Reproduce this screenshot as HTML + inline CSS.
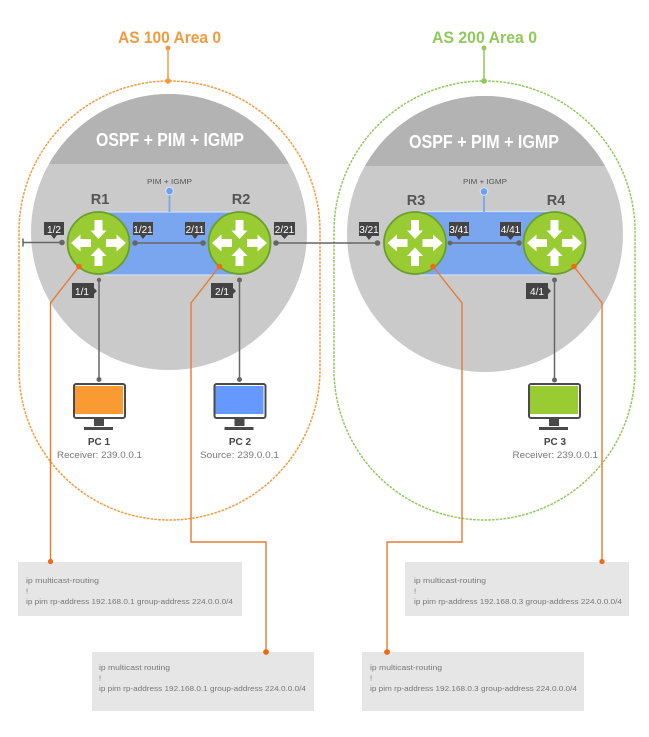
<!DOCTYPE html>
<html>
<head>
<meta charset="utf-8">
<style>
html,body{margin:0;padding:0;background:#fff}
svg{display:block;filter:blur(0.3px)}
text{font-family:"Liberation Sans",sans-serif}
.as{font-size:17px;font-weight:bold}
.ospf{font-size:18px;font-weight:bold;fill:#fff}
.pim{font-size:7.5px;fill:#555}
.r{font-size:14.5px;font-weight:bold;fill:#555;text-anchor:middle}
.pt{font-size:10px;fill:#fff;text-anchor:middle}
.pc{font-size:10px;font-weight:bold;fill:#444;text-anchor:middle}
.sub{font-size:9.5px;fill:#777}
.cfg{font-size:7.5px;fill:#777}
.dash{fill:none;stroke-width:1.5;stroke-dasharray:2.6 1.2}
.g{stroke:#666;stroke-width:1.5;fill:none}
.o{stroke:#e67a35;stroke-width:1.4;fill:none}
</style>
</head>
<body>
<svg width="649" height="737" viewBox="0 0 649 737" xmlns="http://www.w3.org/2000/svg">
<defs>
<clipPath id="capL"><rect x="0" y="0" width="330" height="164"/></clipPath>
<clipPath id="capR"><rect x="330" y="0" width="319" height="166"/></clipPath>
<g id="router">
<circle r="31" fill="#99cc33" stroke="#6a9e2e" stroke-width="1.8"/>
<g fill="#fff">
<path d="M7.500-4H18V-8.500L27.500 0 18 8.500V4H7.500Z"/>
<path d="M-7.500-4H-18V-8.500L-27.500 0-18 8.500V4H-7.500Z"/>
<path d="M-4-23V-12.500H-8L0-4 8-12.500H4V-23Z"/>
<path d="M-4 23V13H-8L0 4.500 8 13H4V23Z"/>
</g>
</g>
<g id="monitor">
<rect x="1" y="1" width="51" height="34" rx="2" fill="#fff" stroke="#4a4a4a" stroke-width="2"/>
<rect x="21" y="36" width="10" height="7" fill="#4a4a4a"/>
<rect x="11" y="44" width="29" height="3" fill="#4a4a4a"/>
</g>
</defs>

<rect width="649" height="737" fill="#fff"/>

<!-- Gray circles -->
<circle cx="169" cy="232" r="138" fill="#cacaca"/>
<circle cx="169" cy="232" r="138" fill="#b3b3b3" clip-path="url(#capL)"/>
<circle cx="485" cy="234" r="138" fill="#cacaca"/>
<circle cx="485" cy="234" r="138" fill="#b3b3b3" clip-path="url(#capR)"/>

<!-- Dashed area outlines -->
<rect class="dash" x="19" y="81" width="301" height="439" rx="150.500" ry="150.500" stroke="#f39a3e"/>
<rect class="dash" x="334" y="81" width="301" height="439" rx="150.500" ry="150.500" stroke="#8fc95a"/>

<!-- Titles -->
<text class="as" x="118" y="43" textLength="103" lengthAdjust="spacingAndGlyphs" fill="#f39a3e">AS 100 Area 0</text>
<line x1="168" y1="48" x2="168" y2="81" stroke="#f39a3e" stroke-width="1.5"/>
<circle cx="168" cy="48" r="2.500" fill="#f39a3e"/>
<circle cx="168" cy="81" r="2.800" fill="#f39a3e"/>
<text class="as" x="432" y="43" textLength="105" lengthAdjust="spacingAndGlyphs" fill="#8fc95a">AS 200 Area 0</text>
<line x1="484" y1="48" x2="484" y2="81" stroke="#8fc95a" stroke-width="1.5"/>
<circle cx="484" cy="48" r="2.500" fill="#8fc95a"/>
<circle cx="484" cy="81" r="2.800" fill="#8fc95a"/>

<text class="ospf" x="96" y="146" textLength="148" lengthAdjust="spacingAndGlyphs">OSPF + PIM + IGMP</text>
<text class="ospf" x="409" y="148" textLength="150" lengthAdjust="spacingAndGlyphs">OSPF + PIM + IGMP</text>

<!-- Blue networks -->
<rect x="105" y="212" width="130" height="63" fill="#7aa5ef" stroke="#d3dff2" stroke-width="1.200"/>
<rect x="420" y="211.500" width="135" height="63.500" fill="#7aa5ef" stroke="#d3dff2" stroke-width="1.200"/>
<line x1="169.500" y1="191" x2="169.500" y2="212" stroke="#7aa5ef" stroke-width="1.800"/>
<line x1="484" y1="191" x2="484" y2="212" stroke="#7aa5ef" stroke-width="1.800"/>
<circle cx="169.500" cy="191" r="3.800" fill="#6f9ff0" stroke="#dbe6f7"/>
<circle cx="484" cy="191.500" r="3.800" fill="#6f9ff0" stroke="#dbe6f7"/>
<text class="pim" x="147" y="184" textLength="45" lengthAdjust="spacingAndGlyphs">PIM + IGMP</text>
<text class="pim" x="463" y="184" textLength="44" lengthAdjust="spacingAndGlyphs">PIM + IGMP</text>

<!-- Gray links -->
<path class="g" d="M23 242.500H62M23 238.500V246.500M135 243H203M276 243H377M450 243H520M99 280V379M239.500 280V379M554.500 280V380"/>
<g fill="#666">
<circle cx="62" cy="242.500" r="2.800"/><circle cx="135" cy="243" r="2.800"/><circle cx="203" cy="243" r="2.800"/>
<circle cx="276" cy="243" r="2.800"/><circle cx="377.500" cy="243" r="2.800"/><circle cx="450" cy="243" r="2.400"/><circle cx="519" cy="243" r="2.800"/>
<circle cx="99" cy="280" r="2.200"/><circle cx="239.500" cy="280" r="2.500"/><circle cx="554.500" cy="280" r="2.500"/>
<circle cx="99" cy="379.500" r="2.500"/><circle cx="239.500" cy="379.500" r="2.500"/><circle cx="554.500" cy="380" r="2.500"/>
</g>

<!-- Routers -->
<use href="#router" x="98.500" y="243"/>
<use href="#router" x="239.500" y="243"/>
<use href="#router" x="415" y="243"/>
<use href="#router" x="554.500" y="243"/>
<text class="r" x="100" y="204">R1</text>
<text class="r" x="241" y="204">R2</text>
<text class="r" x="416" y="205">R3</text>
<text class="r" x="556" y="205">R4</text>

<!-- Port labels -->
<g fill="#444">
<path d="M44 222H64V235H57L54 239 51 235H44Z"/>
<path d="M133 222H153V235H146L143 239 140 235H133Z"/>
<path d="M185 222H205V235H198L195 239 192 235H185Z"/>
<path d="M274 222H295V235H288L284.500 239 281 235H274Z"/>
<path d="M359 222H379V236H372L369 240 366 236H359Z"/>
<path d="M449 222H469V236H462L459 240 456 236H449Z"/>
<path d="M500 222H521V236H514L510.500 240 507 236H500Z"/>
<path d="M72 283H94V288L97 291 94 294V298H72Z"/>
<path d="M211 283H233V288L236 291 233 294V298H211Z"/>
<path d="M526 283H548V288L551 291 548 294V299H526Z"/>
</g>
<text class="pt" x="54" y="233">1/2</text>
<text class="pt" x="143" y="233">1/21</text>
<text class="pt" x="195" y="233">2/11</text>
<text class="pt" x="284.500" y="233">2/21</text>
<text class="pt" x="369" y="233">3/21</text>
<text class="pt" x="459" y="233">3/41</text>
<text class="pt" x="510.500" y="233">4/41</text>
<text class="pt" x="82" y="295">1/1</text>
<text class="pt" x="222" y="295">2/1</text>
<text class="pt" x="537" y="295">4/1</text>

<!-- PCs -->
<use href="#monitor" x="73" y="383"/>
<rect x="75" y="386" width="48" height="28" fill="#f99a33"/>
<use href="#monitor" x="213.500" y="383"/>
<rect x="215.500" y="386" width="48" height="28" fill="#6699ff"/>
<use href="#monitor" x="528" y="383"/>
<rect x="530" y="386" width="48" height="28" fill="#99cc33"/>

<text class="pc" x="99" y="445">PC 1</text>
<text class="sub" x="57" y="458" textLength="85" lengthAdjust="spacingAndGlyphs">Receiver: 239.0.0.1</text>
<text class="pc" x="240" y="445">PC 2</text>
<text class="sub" x="200" y="458" textLength="79" lengthAdjust="spacingAndGlyphs">Source: 239.0.0.1</text>
<text class="pc" x="555" y="445">PC 3</text>
<text class="sub" x="512.500" y="458" textLength="85.500" lengthAdjust="spacingAndGlyphs">Receiver: 239.0.0.1</text>

<!-- Config boxes -->
<rect x="18" y="562" width="224" height="54" fill="#e6e6e6"/>
<rect x="92" y="652" width="222" height="59" fill="#e6e6e6"/>
<rect x="405" y="562" width="224" height="54" fill="#e6e6e6"/>
<rect x="362" y="652" width="222" height="59" fill="#e6e6e6"/>

<text class="cfg" x="26" y="583" textLength="73" lengthAdjust="spacingAndGlyphs">ip multicast-routing</text>
<text class="cfg" x="26" y="593.500">!</text>
<text class="cfg" x="26" y="604" textLength="207" lengthAdjust="spacingAndGlyphs">ip pim rp-address 192.168.0.1 group-address 224.0.0.0/4</text>

<text class="cfg" x="99" y="670" textLength="71" lengthAdjust="spacingAndGlyphs">ip multicast routing</text>
<text class="cfg" x="99" y="680.500">!</text>
<text class="cfg" x="99" y="691" textLength="207" lengthAdjust="spacingAndGlyphs">ip pim rp-address 192.168.0.1 group-address 224.0.0.0/4</text>

<text class="cfg" x="414" y="583" textLength="72" lengthAdjust="spacingAndGlyphs">ip multicast-routing</text>
<text class="cfg" x="414" y="593.500">!</text>
<text class="cfg" x="414" y="604" textLength="208" lengthAdjust="spacingAndGlyphs">ip pim rp-address 192.168.0.3 group-address 224.0.0.0/4</text>

<text class="cfg" x="370" y="670" textLength="72" lengthAdjust="spacingAndGlyphs">ip multicast-routing</text>
<text class="cfg" x="370" y="680.500">!</text>
<text class="cfg" x="370" y="691" textLength="207" lengthAdjust="spacingAndGlyphs">ip pim rp-address 192.168.0.3 group-address 224.0.0.0/4</text>

<!-- Orange leaders -->
<path class="o" d="M79 266.500L50.500 303V562"/>
<path class="o" d="M219.500 266.500L191 303V542H266V652"/>
<path class="o" d="M433 266.500L462 303V542H387V652"/>
<path class="o" d="M574 266.500L602 303V562"/>
<g fill="#f26a0f">
<circle cx="79" cy="266.500" r="2.800"/><circle cx="219.500" cy="266.500" r="2.800"/>
<circle cx="433" cy="266.500" r="2.800"/><circle cx="574" cy="266.500" r="2.800"/>
<circle cx="50.500" cy="561.500" r="2.600"/><circle cx="266" cy="652" r="2.900"/>
<circle cx="387" cy="652" r="2.900"/><circle cx="602" cy="561.500" r="2.600"/>
</g>
</svg>
</body>
</html>
